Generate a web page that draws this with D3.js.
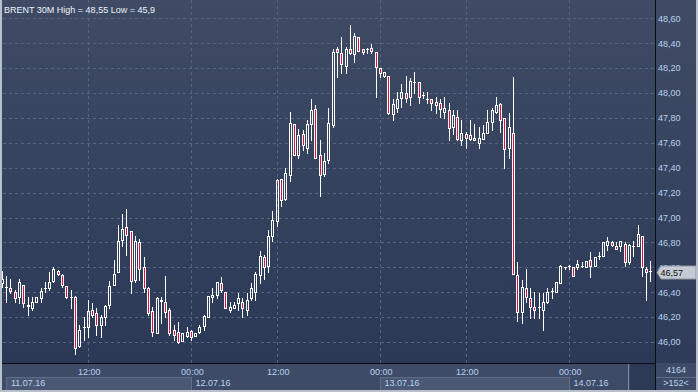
<!DOCTYPE html>
<html><head><meta charset="utf-8">
<script src="https://cdn.jsdelivr.net/npm/d3@7"></script>
<style>
html,body{margin:0;padding:0;background:#34405b;overflow:hidden}
svg{display:block}
text{font-family:"Liberation Sans",Arial,sans-serif;font-size:9px}
</style>
</head><body>
<svg id="c" width="698" height="392"></svg>
<script>
const title = "BRENT 30M High = 48,55 Low = 45,9";
const open = [
46.47,46.44,46.43,46.40,46.36,46.46,46.29,46.27,46.32,46.35,
46.43,46.43,46.49,46.57,46.54,46.45,46.36,46.36,45.97,46.12,
46.12,46.26,46.23,46.14,46.20,46.30,46.46,46.56,46.82,46.92,
46.89,46.50,46.80,46.60,46.43,46.25,46.07,46.34,46.32,46.26,
46.10,46.08,46.01,46.05,46.09,46.05,46.08,46.13,46.20,46.36,
46.38,46.47,46.40,46.26,46.27,46.31,46.32,46.26,46.35,46.40,
46.54,46.68,46.61,46.85,46.97,47.31,47.15,47.34,47.75,47.50,
47.67,47.56,47.75,47.87,47.50,47.35,47.46,47.74,48.35,48.32,
48.22,48.35,48.31,48.45,48.35,48.35,48.36,48.33,48.20,48.14,
48.14,47.83,47.88,47.96,48.00,47.97,48.09,48.09,47.98,47.95,
47.95,47.93,47.92,47.85,47.86,47.73,47.81,47.62,47.67,47.63,
47.64,47.60,47.63,47.68,47.77,47.85,47.91,47.80,47.56,47.68,
46.54,46.24,46.43,46.35,46.28,46.28,46.26,46.32,46.41,46.40,
46.47,46.60,46.61,46.60,46.60,46.61,46.60,46.66,46.61,46.69,
46.69,46.78,46.80,46.77,46.77,46.79,46.64,46.77,46.77,46.85,
46.59,46.57];
const close = [
46.51,46.44,46.41,46.35,46.48,46.31,46.30,46.32,46.36,46.41,
46.43,46.48,46.59,46.55,46.46,46.36,46.36,45.95,46.10,46.12,
46.25,46.22,46.14,46.20,46.29,46.45,46.55,46.81,46.91,46.86,
46.49,46.81,46.59,46.43,46.23,46.08,46.35,46.33,46.24,46.07,
46.06,46.00,46.07,46.08,46.04,46.07,46.12,46.21,46.37,46.38,
46.48,46.42,46.27,46.28,46.30,46.35,46.27,46.34,46.43,46.55,
46.69,46.60,46.85,46.98,47.30,47.14,47.36,47.76,47.50,47.66,
47.58,47.75,47.86,47.48,47.34,47.45,47.76,48.33,48.33,48.23,
48.35,48.32,48.46,48.34,48.33,48.35,48.34,48.21,48.16,48.17,
47.84,47.91,47.95,48.01,47.96,48.10,48.09,47.97,47.98,47.95,
47.92,47.90,47.87,47.88,47.72,47.82,47.63,47.68,47.64,47.66,
47.62,47.64,47.68,47.77,47.86,47.90,47.78,47.55,47.73,46.55,
46.24,46.44,46.36,46.28,46.26,46.28,46.32,46.40,46.41,46.48,
46.61,46.60,46.61,46.53,46.63,46.61,46.65,46.61,46.68,46.69,
46.80,46.81,46.78,46.75,46.81,46.64,46.78,46.77,46.87,46.60,
46.56,46.57];
const high = [
46.57,46.53,46.51,46.42,46.51,46.46,46.36,46.36,46.36,46.43,
46.48,46.56,46.60,46.58,46.55,46.45,46.42,46.37,46.14,46.20,
46.34,46.31,46.27,46.22,46.30,46.49,46.66,46.94,47.03,47.07,
46.89,46.85,46.83,46.68,46.44,46.28,46.36,46.36,46.53,46.27,
46.14,46.16,46.07,46.12,46.10,46.07,46.14,46.22,46.37,46.43,
46.48,46.52,46.40,46.32,46.32,46.39,46.35,46.39,46.47,46.56,
46.73,46.70,46.90,47.05,47.31,47.31,47.40,47.85,47.75,47.71,
47.70,47.78,47.95,47.90,47.62,47.52,47.88,48.35,48.37,48.45,
48.37,48.55,48.48,48.45,48.35,48.36,48.39,48.33,48.20,48.17,
48.14,47.95,48.01,48.07,48.14,48.12,48.17,48.09,48.01,48.01,
47.95,47.97,47.95,47.97,47.92,47.86,47.86,47.78,47.69,47.78,
47.75,47.73,47.74,47.86,47.88,47.97,47.92,47.80,47.84,48.13,
46.64,46.50,46.59,46.43,46.40,46.39,46.39,46.43,46.43,46.48,
46.62,46.60,46.62,46.60,46.66,46.64,46.65,46.72,46.68,46.72,
46.80,46.84,46.81,46.80,46.81,46.80,46.79,46.81,46.94,46.85,
46.60,46.65];
const low = [
46.44,46.32,46.39,46.32,46.31,46.28,46.22,46.26,46.32,46.32,
46.40,46.42,46.48,46.54,46.44,46.35,46.27,45.90,45.96,46.02,
46.04,46.20,46.06,46.04,46.14,46.27,46.46,46.56,46.77,46.70,
46.39,46.48,46.50,46.40,46.22,46.05,46.07,46.15,46.20,46.06,
46.02,45.99,46.01,46.04,46.02,46.05,46.07,46.10,46.20,46.32,
46.35,46.40,46.27,46.24,46.27,46.26,46.20,46.22,46.34,46.34,
46.47,46.51,46.56,46.81,46.93,47.09,47.14,47.29,47.50,47.48,
47.54,47.52,47.62,47.48,47.17,47.33,47.44,47.73,48.13,48.16,
48.16,48.31,48.25,48.34,48.31,48.32,48.32,47.97,48.13,48.13,
47.83,47.78,47.85,47.89,47.93,47.90,48.00,47.92,47.96,47.92,
47.86,47.84,47.81,47.80,47.62,47.67,47.62,47.58,47.56,47.62,
47.62,47.56,47.63,47.68,47.70,47.84,47.69,47.40,47.48,46.55,
46.17,46.15,46.32,46.19,46.19,46.19,46.10,46.31,46.35,46.40,
46.47,46.59,46.59,46.53,46.59,46.60,46.60,46.52,46.61,46.67,
46.69,46.74,46.77,46.75,46.73,46.61,46.63,46.69,46.77,46.53,
46.34,46.49];
const priceTicks = [46.0,46.2,46.4,46.6,46.8,47.0,47.2,47.4,47.6,47.8,48.0,48.2,48.4,48.6];
const timeTickIdx = [20,44,64,88,108,132];
const timeTickLabels = ["12:00","00:00","12:00","00:00","12:00","00:00"];
const dateStartIdx = [-1,44,88,132];
const dateEndIdx = [44,88,132,152];
const dateLabels = ["11.07.16","12.07.16","13.07.16","14.07.16"];
const dateBoxed = [true,false,true,false];
const infoLabels = ["4164", ">152<"];

const W = 698, H = 392, plotR = 655, plotB = 363, plotL = 2;
const FONT = '"Liberation Sans",Arial,sans-serif';
const LBL = "#b9d1f0";
const svg = d3.select("#c");
const defs = svg.append("defs");
const gr = defs.append("linearGradient").attr("id","bg").attr("x1",0).attr("y1",0).attr("x2",0).attr("y2",1);
gr.append("stop").attr("offset","0").attr("stop-color","#3f4b64");
gr.append("stop").attr("offset","1").attr("stop-color","#2b3957");
const gr2 = defs.append("linearGradient").attr("id","bg2").attr("x1",0).attr("y1",0).attr("x2",0).attr("y2",1);
gr2.append("stop").attr("offset","0").attr("stop-color","#3f4b64");
gr2.append("stop").attr("offset","1").attr("stop-color","#2e3c59");

svg.append("rect").attr("x",0).attr("y",0).attr("width",plotR).attr("height",plotB).attr("fill","url(#bg)");
svg.append("rect").attr("x",plotR).attr("y",0).attr("width",W-plotR).attr("height",plotB).attr("fill","url(#bg2)");
svg.append("rect").attr("x",0).attr("y",plotB).attr("width",W).attr("height",H-plotB).attr("fill","#3e4b66");

const N = open.length;
const x = d3.scaleLinear().domain([0, 151]).range([2.4, 650.95]);
const y = d3.scaleLinear().domain([46, 48.6]).range([342, 18.3]);
const px = i => Math.floor(x(i)) + 0.5;
const py = v => Math.round(y(v)) + 0.5;

// grid
const grid = svg.append("g").attr("stroke","#56637c").attr("stroke-dasharray","3,3").attr("stroke-width",1);
grid.selectAll("line.h").data(priceTicks).join("line").attr("class","h")
  .attr("x1",plotL+1).attr("x2",plotR).attr("y1",d=>py(d)).attr("y2",d=>py(d));
grid.selectAll("line.v").data(timeTickIdx).join("line").attr("class","v")
  .attr("x1",d=>px(d)).attr("x2",d=>px(d)).attr("y1",0).attr("y2",plotB);

// candles
const cg = svg.append("g");
d3.range(N).forEach(i => {
  const cx = px(i);
  const top = py(Math.max(open[i], close[i]));
  const bot = py(Math.min(open[i], close[i]));
  const yh = py(high[i]), yl = py(low[i]);
  const up = close[i] >= open[i];
  if (yh < top) cg.append("line").attr("x1",cx).attr("x2",cx).attr("y1",yh-0.5).attr("y2",top).attr("stroke","#fff");
  if (yl > bot) cg.append("line").attr("x1",cx).attr("x2",cx).attr("y1",bot).attr("y2",yl+0.5).attr("stroke","#fff");
  if (bot - top < 1) {
    cg.append("line").attr("x1",cx-1.5).attr("x2",cx+1.5).attr("y1",top).attr("y2",top).attr("stroke","#fff");
  } else {
    cg.append("rect").attr("x",cx-1).attr("y",top).attr("width",2).attr("height",bot-top)
      .attr("fill", up ? "none" : "#e0103c").attr("stroke","#fff").attr("stroke-width",1);
  }
});

// title
svg.append("text").attr("x",4).attr("y",12.5).attr("fill","#eef3fb").style("font-size","9px").text(title);

// right axis
const ya = d3.axisRight(y).tickValues(priceTicks).tickSize(0).tickPadding(3)
  .tickFormat(d => d.toFixed(2).replace(".", ","));
const yg = svg.append("g").attr("transform",`translate(${plotR},0)`).call(ya);
yg.select(".domain").remove();
yg.selectAll("text").attr("fill",LBL).style("font-family",FONT).style("font-size","9px");

// bottom axis
const xa = d3.axisBottom(x).tickValues(timeTickIdx).tickSize(0).tickPadding(5.5)
  .tickFormat((d,k) => timeTickLabels[k]);
const xg = svg.append("g").attr("transform",`translate(0.5,${plotB})`).call(xa);
xg.select(".domain").remove();
xg.selectAll("text").attr("fill",LBL).style("font-family",FONT).style("font-size","9px");

// date row
dateLabels.forEach((lab,k) => {
  const x0 = Math.max(px(dateStartIdx[k]), 6.5);
  const x1 = Math.min(px(dateEndIdx[k]), 628.5);
  if (dateBoxed[k]) {
    svg.append("rect").attr("x",x0).attr("y",377.5).attr("width",x1-x0).attr("height",14)
      .attr("fill","#4a5873").attr("stroke","#5f6d87");
  }
  svg.append("text").attr("x",(k===0?11:x0+4)).attr("y",386).attr("fill",LBL).text(lab);
});

// small dark box bottom right of plot
svg.append("line").attr("x1",628.5).attr("x2",628.5).attr("y1",plotB).attr("y2",H).attr("stroke","#7c8aa2");
svg.append("rect").attr("x",630).attr("y",plotB+1).attr("width",plotR-630).attr("height",H-plotB-3).attr("fill","#2d3a56");

// plot bottom line & axis line
svg.append("line").attr("x1",0).attr("x2",plotR).attr("y1",plotB+0.5).attr("y2",plotB+0.5).attr("stroke","#0a0d14");
svg.append("line").attr("x1",plotR+0.5).attr("x2",plotR+0.5).attr("y1",0).attr("y2",H).attr("stroke","#0a0d14");

// info cell
svg.append("line").attr("x1",plotR+1).attr("x2",W-2).attr("y1",377.5).attr("y2",377.5).attr("stroke","#5f6d87");
svg.append("text").attr("x",676).attr("y",373).attr("text-anchor","middle").attr("fill",LBL).text(infoLabels[0]);
svg.append("text").attr("x",676).attr("y",386).attr("text-anchor","middle").attr("fill",LBL).text(infoLabels[1]);

// last price marker
const last = close[N-1];
const ly = Math.round(y(last)) + 1.5;
const p = d3.path();
p.moveTo(657, ly); p.lineTo(661, ly-6.5); p.lineTo(696, ly-6.5); p.lineTo(696, ly+6.5); p.lineTo(661, ly+6.5); p.closePath();
svg.append("path").attr("d", p.toString()).attr("fill","#c6cbd3").attr("stroke","#8f98a6");
svg.append("text").attr("x",660.5).attr("y",ly+3.5).attr("fill","#111").text(last.toFixed(2).replace(".", ","));

// frame
svg.append("rect").attr("x",0).attr("y",0).attr("width",2).attr("height",H).attr("fill","#b9c0cb");
svg.append("rect").attr("x",0).attr("y",H-2).attr("width",W).attr("height",2).attr("fill","#b9c0cb");
svg.append("rect").attr("x",W-2).attr("y",0).attr("width",2).attr("height",H).attr("fill","#b9c0cb");
</script>
</body></html>
